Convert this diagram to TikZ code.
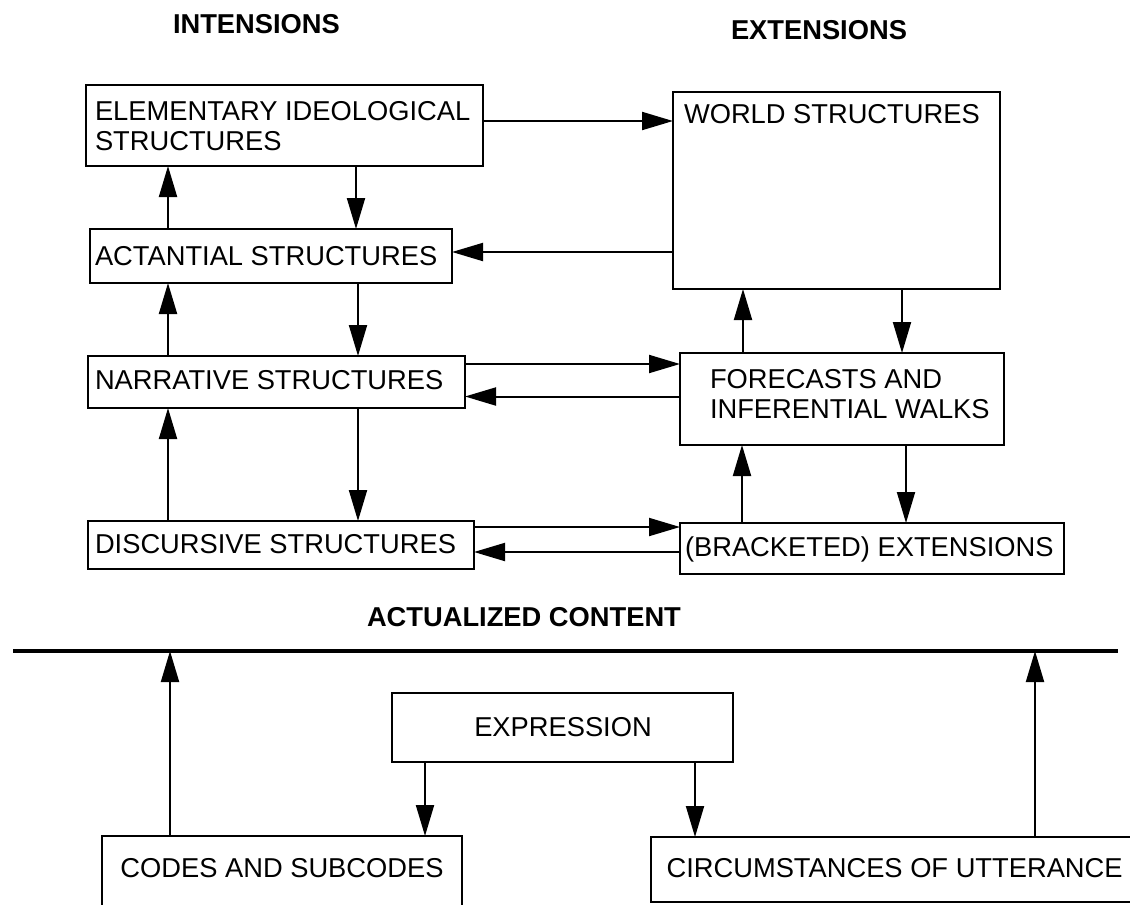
\documentclass[tikz,border=0pt]{standalone}
\usepackage{fontspec}
\setmainfont{Liberation Sans}
\usetikzlibrary{arrows.meta}
\newcommand{\twoline}[2]{\begin{tabular}[t]{@{}l@{}}#1\\#2\end{tabular}}
\begin{document}
\begin{tikzpicture}[x=1pt,y=-1pt,
  box/.style={draw, line width=2pt, rectangle, inner sep=0pt, outer sep=0pt, anchor=north west},
  lbl/.style={inner sep=0pt, outer sep=0pt, anchor=base west, font=\fontsize{27.3}{30}\selectfont},
  head/.style={lbl, font=\fontsize{27.3}{30}\selectfont\bfseries},
  arr/.style={line width=2pt, -{Triangle[length=31pt,width=18pt]}},
]
\useasboundingbox (0,0) rectangle (1130,905);
\clip (0,0) rectangle (1130,905);

% headings
\node[head] (hint) at (173,33) {INTENSIONS};
\node[head] (hext) at (731,39) {EXTENSIONS};
\node[head] (hact) at (367,626) {ACTUALIZED CONTENT};

% boxes
\node[box, minimum width=397pt, minimum height=81pt] (elem) at (86,85) {};
\node[box, minimum width=362pt, minimum height=54pt] (act) at (90,229) {};
\node[box, minimum width=377pt, minimum height=52pt] (narr) at (88,356) {};
\node[box, minimum width=386pt, minimum height=48pt] (disc) at (88,521) {};
\node[box, minimum width=327pt, minimum height=197pt] (world) at (673,92) {};
\node[box, minimum width=324pt, minimum height=92pt] (fore) at (680,353) {};
\node[box, minimum width=384pt, minimum height=51pt] (brack) at (680,523) {};
\node[box, minimum width=341pt, minimum height=69pt] (expr) at (392,693) {};
\node[box, minimum width=360pt, minimum height=150pt] (codes) at (102,836) {};
\node[box, minimum width=550pt, minimum height=65pt] (circ) at (651,837) {};

% box texts
\node[lbl] (elemt) at (95,120.7) {\twoline{ELEMENTARY IDEOLOGICAL}{STRUCTURES}};
\node[lbl] (actt) at (95,265) {ACTANTIAL STRUCTURES};
\node[lbl] (narrt) at (95,389) {NARRATIVE STRUCTURES};
\node[lbl] (disct) at (95,553) {DISCURSIVE STRUCTURES};
\node[lbl] (worldt) at (684,123) {WORLD STRUCTURES};
\node[lbl] (foret) at (710,388) {\twoline{FORECASTS AND}{INFERENTIAL WALKS}};
\node[lbl] (brackt) at (685,556) {(BRACKETED) EXTENSIONS};
\node[lbl, anchor=base] (exprt) at (563,736) {EXPRESSION};
\node[lbl, anchor=base] (codest) at (282,877) {CODES AND SUBCODES};
\node[lbl] (circt) at (666.6,877) {CIRCUMSTANCES OF UTTERANCE};

% the actualized-content line
\coordinate (lineL) at (13,651);
\coordinate (lineR) at (1118,651);
\draw[line width=4.5pt] (lineL) -- (lineR);

% helper coordinates
\coordinate (xa) at (168,0);
\coordinate (xb) at (356,0);
\coordinate (xc) at (358,0);
\coordinate (xd) at (743,0);
\coordinate (xe) at (902,0);
\coordinate (xf) at (742,0);
\coordinate (xg) at (906,0);
\coordinate (xh) at (170,0);
\coordinate (xi) at (1035,0);
\coordinate (xj) at (425,0);
\coordinate (xk) at (695,0);
\coordinate (ya) at (0,121);
\coordinate (yb) at (0,252);
\coordinate (yc) at (0,364);
\coordinate (yd) at (0,396.5);
\coordinate (ye) at (0,527);
\coordinate (yf) at (0,552);
\coordinate (yl) at (0,653);

% connectors
\draw[arr] (elem.east |- ya) -- (world.west |- ya);
\draw[arr] (act.north -| xa) -- (elem.south -| xa);
\draw[arr] (elem.south -| xb) -- (act.north -| xb);
\draw[arr] (world.west |- yb) -- (act.east |- yb);
\draw[arr] (narr.north -| xa) -- (act.south -| xa);
\draw[arr] (act.south -| xc) -- (narr.north -| xc);
\draw[arr] (narr.east |- yc) -- (fore.west |- yc);
\draw[arr] (fore.west |- yd) -- (narr.east |- yd);
\draw[arr] (disc.north -| xa) -- (narr.south -| xa);
\draw[arr] (narr.south -| xc) -- (disc.north -| xc);
\draw[arr] (disc.east |- ye) -- (brack.west |- ye);
\draw[arr] (brack.west |- yf) -- (disc.east |- yf);
\draw[arr] (fore.north -| xd) -- (world.south -| xd);
\draw[arr] (world.south -| xe) -- (fore.north -| xe);
\draw[arr] (brack.north -| xf) -- (fore.south -| xf);
\draw[arr] (fore.south -| xg) -- (brack.north -| xg);
\draw[arr] (codes.north -| xh) -- (lineL -| xh);
\draw[arr] (circ.north -| xi) -- (lineL -| xi);
\draw[arr] (expr.south -| xj) -- (codes.north -| xj);
\draw[arr] (expr.south -| xk) -- (circ.north -| xk);
\end{tikzpicture}
\end{document}
